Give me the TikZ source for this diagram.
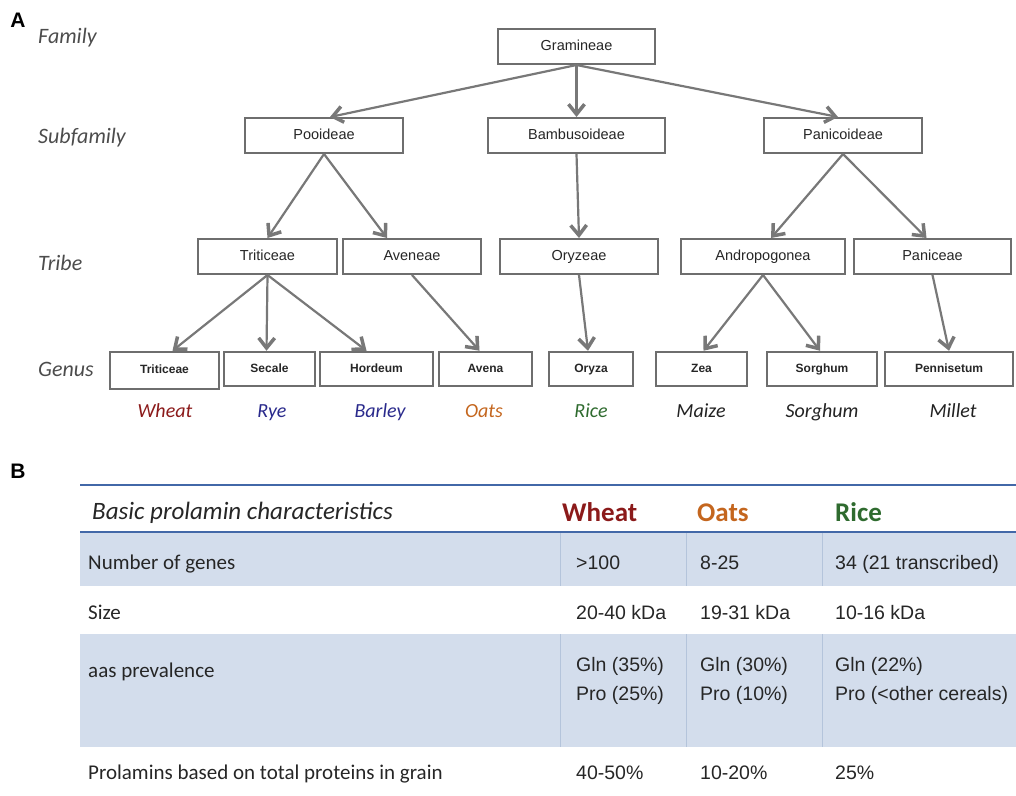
\documentclass[tikz,border=0pt]{standalone}
\usepackage{fontspec}
\setmainfont{Liberation Sans}
\newfontfamily\calfont{Carlito}
\usepackage{xcolor}
\usetikzlibrary{arrows.meta,positioning}

\definecolor{boxgray}{HTML}{6E6E6E}
\definecolor{arrowgray}{HTML}{787878}
\definecolor{wheatred}{HTML}{8B1A1A}
\definecolor{ryeblue}{HTML}{2A2A8C}
\definecolor{oatorange}{HTML}{C4661E}
\definecolor{ricegreen}{HTML}{2F6B2F}
\definecolor{darkgray}{HTML}{222222}
\definecolor{rowblue}{HTML}{D3DDEC}
\definecolor{ruleblue}{HTML}{4268A8}
\definecolor{sepblue}{HTML}{B4C4DB}

\begin{document}
\begin{tikzpicture}[x=1pt,y=-1pt,
	taxbox/.style={draw=boxgray, line width=2pt, minimum height=35pt, inner sep=0pt, text height=10.5pt, text depth=3pt, font=\fontsize{14.5}{16}\selectfont, text=black!85},
	genbox/.style={draw=boxgray, line width=2.5pt, minimum height=34pt, inner sep=0pt, text height=9pt, text depth=2.5pt, font=\bfseries\fontsize{12}{14}\selectfont, text=black!85},
	rank/.style={anchor=base west, inner sep=0pt, font=\calfont\itshape\fontsize{22}{26}\selectfont, text=black!70},
	crop/.style={anchor=base, inner sep=0pt, font=\calfont\itshape\fontsize{20}{24}\selectfont},
	link/.style={draw=arrowgray, line width=2.2pt, -{Straight Barb[length=10pt,width=16pt,line width=3.5pt]}},
	panel/.style={inner sep=0pt, font=\bfseries\fontsize{21}{24}\selectfont},
	lab/.style={anchor=base west, inner sep=0pt, font=\calfont\fontsize{21}{25}\selectfont, text=black!85},
	cell/.style={anchor=base west, inner sep=0pt, font=\fontsize{19.5}{29}\selectfont, text=black!85, align=left},
	head/.style={anchor=base west, inner sep=0pt, font=\calfont\bfseries\fontsize{27}{30}\selectfont}]
	\useasboundingbox (0,0) rectangle (1016,795);
	
	% Panel A: taxonomy tree
	\node[panel] (pa) at (18,20) {A};
	\node[rank] (rfam) at (38,43) {Family};
	\node[rank] (rsub) at (38,143) {Subfamily};
	\node[rank] (rtri) at (38,270) {Tribe};
	\node[rank] (rgen) at (38,376) {Genus};
	
	\node[taxbox, minimum width=157pt] (grami) at (576.5,46.5) {Gramineae};
	
	\node[taxbox, minimum width=158pt] (pooid) at (324,135.5) {Pooideae};
	\node[taxbox, minimum width=177pt] (bambu) at (576.5,135.5) {Bambusoideae};
	\node[taxbox, minimum width=158pt] (panic) at (843,135.5) {Panicoideae};
	
	\node[taxbox, minimum width=139pt] (tritic) at (267.5,256.5) {Triticeae};
	\node[taxbox, minimum width=138pt] (avene) at (412,256.5) {Aveneae};
	\node[taxbox, minimum width=158pt] (oryze) at (579,256.5) {Oryzeae};
	\node[taxbox, minimum width=164pt] (andro) at (763,256.5) {Andropogonea};
	\node[taxbox, minimum width=157pt] (panice) at (932.5,256.5) {Paniceae};
	
	\node[genbox, minimum width=109pt, minimum height=37pt] (gtrit) at (164.5,370.5) {Triticeae};
	\node[genbox, minimum width=91pt] (gseca) at (269.5,369) {Secale};
	\node[genbox, minimum width=113pt] (ghord) at (376.5,369) {Hordeum};
	\node[genbox, minimum width=93pt] (gaven) at (485.5,369) {Avena};
	\node[genbox, minimum width=84pt] (goryz) at (591,369) {Oryza};
	\node[genbox, minimum width=91pt] (gzea) at (701.5,369) {Zea};
	\node[genbox, minimum width=110pt] (gsorg) at (822,369) {Sorghum};
	\node[genbox, minimum width=128pt] (gpenn) at (949,369) {Pennisetum};
	
	% common names of the crops
	\foreach \x/\w/\c in {165/Wheat/wheatred, 272/Rye/ryeblue, 380/Barley/ryeblue, 484/Oats/oatorange,
		591/Rice/ricegreen, 701/Maize/darkgray, 822/Sorghum/darkgray, 953/Millet/darkgray}
		\node[crop, text=\c] (c\w) at (\x,417) {\w};
	
	% arrows
	\draw[link] (grami.south) -- ([xshift=6pt]pooid.north);
	\draw[link] (grami.south) -- (bambu.north);
	\draw[link] (grami.south) -- ([xshift=-5pt]panic.north);
	\draw[link] (pooid.south) -- (tritic.north);
	\draw[link] (pooid.south) -- ([xshift=-25pt]avene.north);
	\draw[link] (bambu.south) -- (oryze.north);
	\draw[link] (panic.south) -- ([xshift=8pt]andro.north);
	\draw[link] (panic.south) -- ([xshift=-6pt]panice.north);
	\draw[link] (tritic.south) -- ([xshift=8pt]gtrit.north);
	\draw[link] (tritic.south) -- ([xshift=-3pt]gseca.north);
	\draw[link] (tritic.south) -- ([xshift=-10pt]ghord.north);
	\draw[link] (avene.south) -- ([xshift=-6pt]gaven.north);
	\draw[link] (oryze.south) -- ([xshift=-3pt]goryz.north);
	\draw[link] (andro.south) -- ([xshift=2pt]gzea.north);
	\draw[link] (andro.south) -- ([xshift=-2pt]gsorg.north);
	\draw[link] (panice.south) -- (gpenn.north);
	
	% Panel B: table
	\node[panel] (pb) at (18,471) {B};
	\fill[rowblue] (80,533) rectangle (1016,586);
	\fill[rowblue] (80,634) rectangle (1016,747);
	\foreach \x in {560,686,822}
		\draw[sepblue, line width=0.8pt] (\x,533) -- (\x,586) (\x,634) -- (\x,747);
	\draw[ruleblue, line width=2.5pt] (80,485) -- (1016,485);
	\draw[ruleblue, line width=2.5pt] (80,532) -- (1016,532);
	
	\node[lab, font=\calfont\itshape\fontsize{25}{29}\selectfont] (hchar) at (92,519) {Basic prolamin characteristics};
	\node[head, text=wheatred] (hwheat) at (562,521) {Wheat};
	\node[head, text=oatorange] (hoats) at (697,521) {Oats};
	\node[head, text=ricegreen] (hrice) at (835,521) {Rice};
	
	\foreach \y/\l/\a/\b/\c in {569/Number of genes/{>100}/8-25/34 (21 transcribed),
		619/Size/20-40 kDa/19-31 kDa/10-16 kDa,
		779/Prolamins based on total proteins in grain/40-50\%/10-20\%/25\%} {
		\node[lab] (lab\y) at (88,\y) {\l};
		\node[cell] (wht\y) at (576,\y) {\a};
		\node[cell] (oat\y) at (700,\y) {\b};
		\node[cell] (ric\y) at (835,\y) {\c};
	}
	\node[lab] (labaas) at (88,677) {aas prevalence};
	\node[cell] (whtaas) at (576,700) {Gln (35\%)\\Pro (25\%)};
	\node[cell] (oataas) at (700,700) {Gln (30\%)\\Pro (10\%)};
	\node[cell] (ricaas) at (835,700) {Gln (22\%)\\Pro (<other cereals)};
\end{tikzpicture}
\end{document}
